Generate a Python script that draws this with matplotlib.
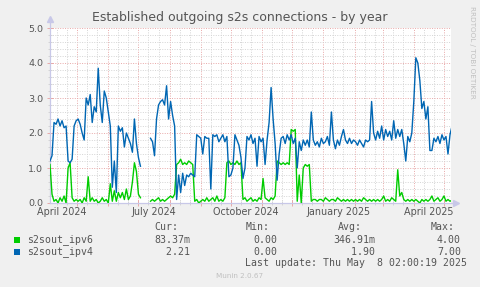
import numpy as np
import pandas as pd
import matplotlib
matplotlib.use("Agg")
import matplotlib.pyplot as plt
import matplotlib.dates as mdates
from matplotlib.ticker import MultipleLocator
from matplotlib.transforms import blended_transform_factory

# ---- data (sampled every 2 days starting 2024-04-04) ----
start_date = "2024-04-04"
end_date = "2025-05-08"
nan = np.nan
ipv4 = [
    1.2, 1.35, 2.3, 2.25, 2.4, 2.2, 2.35, 2.15, 2.2, 1.2,
    1.15, 1.25, 2.2, 2.35, 2.4, 2.25, 2.0, 1.8, 3.0, 2.8,
    3.1, 2.3, 2.75, 2.6, 3.85, 2.8, 2.3, 3.2, 3.0, 2.6,
    2.2, 0.45, 1.2, 0.3, 2.2, 2.05, 2.15, 1.6, 2.0, 1.85,
    1.7, 1.45, 2.4, 1.7, 1.3, 1.05, nan, nan, nan, nan,
    1.85, 1.75, 1.35, 2.4, 2.8, 2.9, 2.95, 2.8, 3.35, 2.4,
    2.9, 2.5, 2.2, 0.1, 0.8, 0.3, 0.85, 0.5, 0.8, 0.75,
    0.85, 0.8, 0.75, 1.95, 1.9, 1.85, 1.4, 1.9, 1.85, 1.85,
    0.4, 1.95, 1.9, 1.95, 1.75, 1.85, 1.95, 1.75, 1.9, 0.75,
    0.8, 1.0, 1.95, 1.8, 1.65, 1.3, 0.7, 1.0, 1.9, 1.8,
    1.95, 1.7, 1.85, 1.05, 1.9, 1.75, 1.85, 1.1, 1.8, 2.3,
    3.3, 2.4, 1.7, 0.65, 1.4, 1.85, 1.9, 1.7, 1.95, 1.8,
    1.95, 1.7, 1.85, 1.0, 1.75, 1.5, 1.8, 1.65, 1.8, 1.6,
    2.6, 1.8, 1.65, 1.75, 1.6, 1.85, 1.7, 1.75, 1.9, 1.65,
    2.6, 1.8, 1.55, 1.8, 1.65, 1.9, 2.1, 1.8, 1.7, 1.85,
    1.7, 1.8, 1.75, 1.65, 1.8, 1.7, 1.6, 1.8, 1.75, 1.8,
    2.9, 2.0, 1.8, 2.05, 1.85, 2.2, 1.8, 2.1, 1.9, 2.05,
    1.8, 2.35, 1.85, 2.1, 1.9, 2.1, 1.7, 1.2, 1.9, 1.75,
    2.0, 2.9, 4.15, 4.0, 3.5, 2.7, 2.9, 2.4, 2.75, 1.5,
    1.5, 1.85, 1.75, 1.9, 1.7, 1.95, 1.8, 1.9, 1.4, 1.95,
    2.2,
]
ipv6 = [
    1.1, 0.25, 0.05, 0.1, 0.0, 0.15, 0.05, 0.2, 0.0, 1.0,
    1.15, 0.15, 0.05, 0.1, 0.05, 0.1, 0.0, 0.15, 0.05, 0.75,
    0.05, 0.15, 0.05, 0.1, 0.0, 0.05, 0.15, 0.05, 0.1, 0.0,
    0.55, 0.05, 0.35, 0.05, 0.3, 0.15, 0.3, 0.1, 0.4, 0.1,
    0.2, 0.6, 1.15, 0.9, 0.25, 0.15, nan, nan, nan, nan,
    0.05, 0.1, 0.05, 0.1, 0.15, 0.05, 0.1, 0.05, 0.1, 0.15,
    0.2, 0.15, 0.25, 1.1, 1.15, 1.25, 1.1, 1.15, 1.1, 1.2,
    1.15, 1.1, 0.05, 0.1, 0.0, 0.05, 0.1, 0.05, 0.15, 0.05,
    0.1, 0.15, 0.05, 0.2, 0.05, 0.1, 0.05, 0.15, 1.15, 1.2,
    1.1, 1.15, 1.1, 1.2, 1.1, 1.15, 0.1, 0.15, 0.05, 0.1,
    0.15, 0.05, 0.1, 0.05, 0.15, 0.1, 0.7, 0.15, 0.1, 0.05,
    0.15, 0.1, 0.2, 1.2, 1.15, 1.1, 1.15, 1.1, 1.15, 1.1,
    2.1, 2.05, 2.1, 0.05, 0.8, 0.0, 1.0, 1.1, 1.05, 1.1,
    0.05, 0.1, 0.1, 0.05, 0.1, 0.1, 0.05, 0.15, 0.1, 0.05,
    0.1, 0.1, 0.05, 0.15, 0.1, 0.05, 0.1, 0.05, 0.1, 0.05,
    0.1, 0.05, 0.1, 0.05, 0.1, 0.05, 0.15, 0.1, 0.05, 0.1,
    0.05, 0.1, 0.05, 0.1, 0.05, 0.1, 0.2, 0.05, 0.1, 0.05,
    0.15, 0.1, 0.05, 0.95, 0.2, 0.3, 0.1, 0.05, 0.1, 0.05,
    0.1, 0.05, 0.1, 0.05, 0.0, 0.1, 0.05, 0.1, 0.05, 0.1,
    0.2, 0.05, 0.1, 0.15, 0.05, 0.1, 0.2, 0.05, 0.1, 0.05,
    0.08,
]
series_names = ["s2sout_ipv6", "s2sout_ipv4"]
series_colors = ["#00CC00", "#0066B3"]
cur_vals = ["83.37m", "2.21"]
min_vals = ["0.00", "0.00"]
avg_vals = ["346.91m", "1.90"]
max_vals = ["4.00", "7.00"]
x_labels = ["April 2024", "July 2024", "October 2024", "January 2025", "April 2025"]
x_label_dates = ["2024-04-16", "2024-07-16", "2024-10-16", "2025-01-16", "2025-04-16"]
title = "Established outgoing s2s connections - by year"
last_update = "Last update: Thu May  8 02:00:19 2025"

# ---- figure ----
W, H = 481, 287
dpi = 100
fig = plt.figure(figsize=(W / dpi, H / dpi), dpi=dpi, facecolor="#F0F0F0")
L, R, T, B = 50, 451, 28, 203
ax = fig.add_axes([L / W, 1 - B / H, (R - L) / W, (B - T) / H])
ax.set_facecolor("white")

dates = pd.date_range(start_date, periods=len(ipv4), freq="2D")
x0 = pd.Timestamp(start_date)
x1 = pd.Timestamp(end_date)
ax.set_xlim(x0, x1)
ax.set_ylim(0, 5)

grid_red = "#E8A8A8"
grid_gray = "#D4D4D4"
axis_col = "#C8C8E8"

# grids
ax.xaxis.set_major_locator(mdates.MonthLocator(bymonthday=1))
ax.xaxis.set_minor_locator(mdates.MonthLocator(bymonthday=[11, 21]))
ax.yaxis.set_major_locator(MultipleLocator(1.0))
ax.yaxis.set_minor_locator(MultipleLocator(0.2))
ax.grid(which="major", color=grid_red, linestyle=(0, (1, 1.5)), linewidth=0.7)
ax.grid(which="minor", color=grid_gray, linestyle=(0, (1, 1.5)), linewidth=0.7)
ax.set_axisbelow(True)
ax.set_xticklabels([])
ax.tick_params(axis="x", which="major", direction="inout", length=4, color=grid_red, width=0.7)
ax.tick_params(axis="x", which="minor", direction="inout", length=3, color=grid_gray, width=0.7)
ax.tick_params(axis="y", which="major", direction="inout", length=4, color=grid_red, width=0.7,
               labelsize=6.8, labelcolor="#555555", pad=3)
ax.tick_params(axis="y", which="minor", direction="inout", length=3, color=grid_gray, width=0.7)
ax.set_yticks([0, 1, 2, 3, 4, 5])
ax.set_yticklabels(["0.0", "1.0", "2.0", "3.0", "4.0", "5.0"])
for s in ax.spines.values():
    s.set_visible(False)

# axis lines with arrows
ax.plot([x0, x0], [0, 5.2], color=axis_col, lw=0.9, clip_on=False, zorder=3)
ax.plot([x0, x1 + pd.Timedelta(days=4)], [0, 0], color=axis_col, lw=0.9, clip_on=False, zorder=3)
ax.plot([x0], [5.25], marker="^", color=axis_col, markersize=4, clip_on=False, zorder=3)
ax.plot([x1 + pd.Timedelta(days=5)], [0], marker=">", color=axis_col, markersize=4, clip_on=False, zorder=3)

# data lines
ax.plot(dates, ipv6, color=series_colors[0], lw=1.0, zorder=4)
ax.plot(dates, ipv4, color=series_colors[1], lw=1.0, zorder=5)

# x labels
trans = blended_transform_factory(ax.transData, ax.transAxes)
for lab, d in zip(x_labels, x_label_dates):
    ax.text(pd.Timestamp(d), -0.05, lab, transform=trans, ha="center", va="center",
            fontsize=6.9, color="#555555")

# title
fig.text(240 / W, 1 - 18 / H, title, ha="center", va="center", fontsize=9.0, color="#555555")
# rrdtool watermark
fig.text(472 / W, 1 - 52 / H, "RRDTOOL / TOBI OETIKER", rotation=270, ha="center", va="center",
         fontsize=5.2, color="#C0C0C0")

# legend
mono = "DejaVu Sans Mono"
fs = 7.1
tc = "#555555"
def px(x, y):
    return x / W, 1 - y / H
for lab, xr in zip(["Cur:", "Min:", "Avg:", "Max:"], [178, 270, 362, 455]):
    fig.text(*px(xr, 227), lab, ha="right", va="center", fontsize=fs, family=mono, color=tc)
rows_y = [240, 252]
for i in range(2):
    y = rows_y[i]
    fig.patches.append(plt.Rectangle(px(14, y + 3), 6 / W, 6 / H, transform=fig.transFigure,
                                     facecolor=series_colors[i], edgecolor="none"))
    fig.text(*px(27, y), series_names[i], ha="left", va="center", fontsize=fs, family=mono, color=tc)
    fig.text(*px(190, y), cur_vals[i].rjust(6), ha="right", va="center", fontsize=fs, family=mono, color=tc)
    fig.text(*px(277, y), min_vals[i], ha="right", va="center", fontsize=fs, family=mono, color=tc)
    fig.text(*px(375, y), avg_vals[i].rjust(7), ha="right", va="center", fontsize=fs, family=mono, color=tc)
    fig.text(*px(461, y), max_vals[i], ha="right", va="center", fontsize=fs, family=mono, color=tc)
fig.text(*px(467, 263), last_update, ha="right", va="center", fontsize=fs, family=mono, color=tc)
fig.text(*px(240, 276), "Munin 2.0.67", ha="center", va="center", fontsize=5.2, color="#C0C0C0")

fig.savefig("out.png", dpi=dpi, facecolor=fig.get_facecolor())
